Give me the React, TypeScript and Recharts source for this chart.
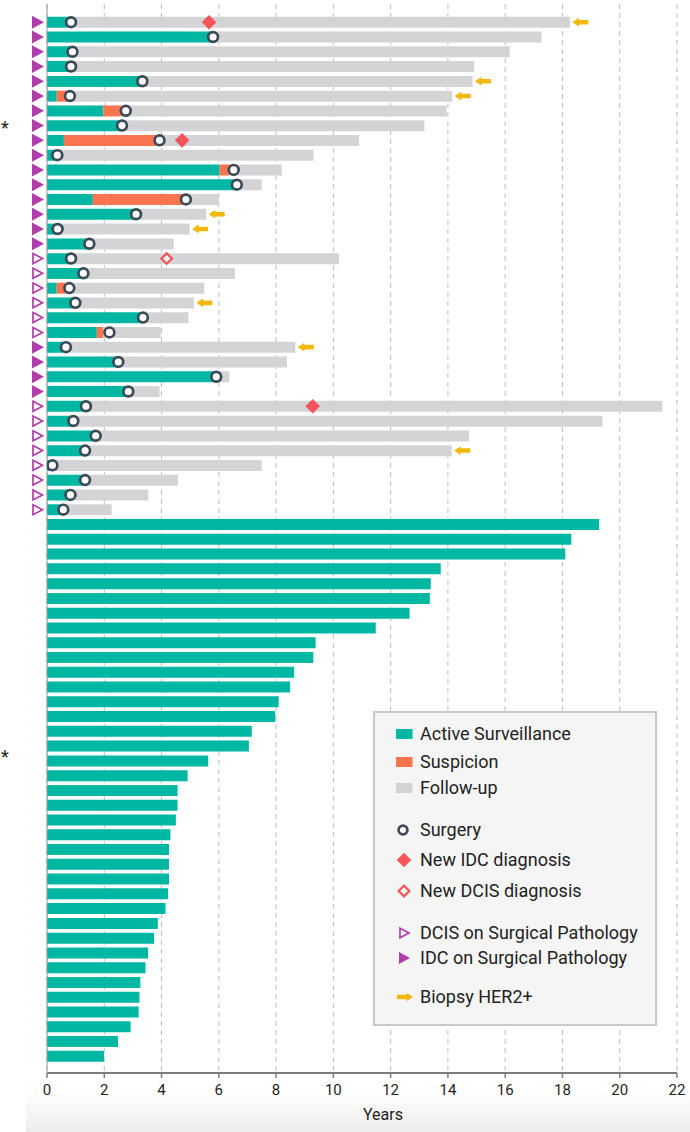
import React from "react";
import { ComposedChart, Bar, Scatter, XAxis, YAxis, CartesianGrid, Legend } from "recharts";

const TEAL = "#00b7a3";
const ORANGE = "#fb7450";
const GRAY = "#d4d4d6";
const SLATE = "#3b4a56";
const RED = "#f4555b";
const MAGENTA = "#b23cac";
const GOLD = "#f2b80c";
const AXIS = "#7c7c7c";

// ---- Cohort that went to surgery (34 patients), values in years ----
const surgAS = [0.84, 5.8, 0.89, 0.84, 3.33, 0.34, 1.97, 2.62, 0.59, 0.3, 6.03, 6.63, 1.6, 3.11, 0.37, 1.48, 0.84, 1.27, 0.34, 0.99, 3.35, 1.74, 0.66, 2.49, 5.91, 2.84, 1.36, 0.92, 1.7, 1.33, 0.1, 1.33, 0.82, 0.57];
const surgSuspicionEnd = [null, null, null, null, null, 0.7, 2.61, null, 3.93, null, 6.38, null, 4.85, null, null, null, null, null, 0.63, null, null, 1.97, null, null, null, null, null, null, null, null, null, null, null, null];
const surgFollowEnd = [18.26, 17.27, 16.16, 14.92, 14.86, 14.15, 13.95, 13.18, 10.9, 9.31, 8.2, 7.5, 5.99, 5.56, 4.98, 4.43, 10.2, 6.56, 5.49, 5.13, 4.94, 3.97, 8.67, 8.38, 6.37, 3.93, 21.49, 19.4, 14.74, 14.13, 7.5, 4.57, 3.54, 2.26];
const surgTime = [0.84, 5.8, 0.89, 0.84, 3.33, 0.8, 2.75, 2.62, 3.93, 0.36, 6.52, 6.63, 4.85, 3.11, 0.37, 1.48, 0.84, 1.27, 0.78, 0.99, 3.35, 2.18, 0.66, 2.49, 5.91, 2.84, 1.36, 0.92, 1.7, 1.33, 0.19, 1.33, 0.82, 0.57];
const newIDC = [5.66, null, null, null, null, null, null, null, 4.72, null, null, null, null, null, null, null, null, null, null, null, null, null, null, null, null, null, 9.28, null, null, null, null, null, null, null];
const newDCIS = [null, null, null, null, null, null, null, null, null, null, null, null, null, null, null, null, 4.18, null, null, null, null, null, null, null, null, null, null, null, null, null, null, null, null, null];
const her2Biopsy = [true, false, false, false, true, true, false, false, false, false, false, false, false, true, true, false, false, false, false, true, false, false, true, false, false, false, false, false, false, true, false, false, false, false];
const pathology = ["IDC", "IDC", "IDC", "IDC", "IDC", "IDC", "IDC", "IDC", "IDC", "IDC", "IDC", "IDC", "IDC", "IDC", "IDC", "IDC", "DCIS", "DCIS", "DCIS", "DCIS", "DCIS", "DCIS", "IDC", "IDC", "IDC", "IDC", "DCIS", "DCIS", "DCIS", "DCIS", "DCIS", "DCIS", "DCIS", "DCIS"];

// ---- Cohort still on active surveillance (37 patients) ----
const activeOnly = [19.28, 18.31, 18.1, 13.75, 13.4, 13.37, 12.66, 11.48, 9.38, 9.3, 8.63, 8.49, 8.09, 7.97, 7.15, 7.05, 5.63, 4.91, 4.56, 4.56, 4.5, 4.31, 4.26, 4.26, 4.26, 4.23, 4.14, 3.87, 3.74, 3.53, 3.44, 3.26, 3.23, 3.2, 2.92, 2.48, 1.99];

// rows marked with an asterisk
const asteriskRows = ["S8", "A17"];
const xTicks = [0, 2, 4, 6, 8, 10, 12, 14, 16, 18, 20, 22];

const legendLabels = [
  "Active Surveillance",
  "Suspicion",
  "Follow-up",
  "Surgery",
  "New IDC diagnosis",
  "New DCIS diagnosis",
  "DCIS on Surgical Pathology",
  "IDC on Surgical Pathology",
  "Biopsy HER2+",
];
const legendIcons = ["rectAS", "rectSusp", "rectFU", "circle", "diamond", "diamondHollow", "triHollow", "triFilled", "arrow"];
const legendTops = [23.3, 50.7, 76.7, 119, 149, 180, 221.7, 247.3, 285.7];

type Row = {
  id: string;
  as: number;
  susp: number;
  fu: number;
  surgery: number | null;
  idc: number | null;
  dcis: number | null;
  her2: number | null;
  path: string | null;
};

const rows: Row[] = [
  ...surgAS.map((a, i) => {
    const se = surgSuspicionEnd[i];
    const base = se != null ? se : a;
    return {
      id: `S${i + 1}`,
      as: a,
      susp: se != null ? se - a : 0,
      fu: surgFollowEnd[i] - base,
      surgery: surgTime[i],
      idc: newIDC[i],
      dcis: newDCIS[i],
      her2: her2Biopsy[i] ? surgFollowEnd[i] : null,
      path: pathology[i],
    };
  }),
  ...activeOnly.map((v, i) => ({
    id: `A${i + 1}`,
    as: v,
    susp: 0,
    fu: 0,
    surgery: null,
    idc: null,
    dcis: null,
    her2: null,
    path: null,
  })),
];

const ok = (v: any) => typeof v === "number" && isFinite(v);

const SurgeryShape = (p: any) => {
  if (!ok(p.cx) || !ok(p.cy)) return null;
  return <circle cx={p.cx} cy={p.cy} r={4.9} fill="#fff" stroke={SLATE} strokeWidth={2.7} />;
};
const IdcShape = (p: any) => {
  if (!ok(p.cx) || !ok(p.cy)) return null;
  const h = 7.3;
  return <path d={`M${p.cx},${p.cy - h}L${p.cx + h},${p.cy}L${p.cx},${p.cy + h}L${p.cx - h},${p.cy}Z`} fill={RED} />;
};
const DcisShape = (p: any) => {
  if (!ok(p.cx) || !ok(p.cy)) return null;
  const h = 5.2;
  return <path d={`M${p.cx},${p.cy - h}L${p.cx + h},${p.cy}L${p.cx},${p.cy + h}L${p.cx - h},${p.cy}Z`} fill="#fff" stroke={RED} strokeWidth={2.3} />;
};
const ArrowShape = (p: any) => {
  if (!ok(p.cx) || !ok(p.cy)) return null;
  const x0 = p.cx + 2.5;
  const y = p.cy;
  return (
    <path
      d={`M${x0},${y}L${x0 + 6.5},${y - 4.4}L${x0 + 6.5},${y - 2.3}L${x0 + 16},${y - 2.3}L${x0 + 16},${y + 2.3}L${x0 + 6.5},${y + 2.3}L${x0 + 6.5},${y + 4.4}Z`}
      fill={GOLD}
    />
  );
};

const RowTick = (p: any) => {
  const id = p.payload?.value;
  const row = rows.find((r) => r.id === id);
  const x = p.x;
  const y = p.y;
  const parts: any[] = [];
  if (row && row.path === "IDC") {
    parts.push(<path key="t" d={`M${x - 15},${y - 6.5}L${x - 3},${y}L${x - 15},${y + 6.5}Z`} fill={MAGENTA} />);
  } else if (row && row.path === "DCIS") {
    parts.push(
      <path key="t" d={`M${x - 14},${y - 5}L${x - 4.5},${y}L${x - 14},${y + 5}Z`} fill="#fff" stroke={MAGENTA} strokeWidth={1.7} strokeLinejoin="miter" />
    );
  }
  if (asteriskRows.includes(id)) {
    parts.push(
      <text key="a" x={x - 46} y={y} dy={id === "S8" ? 8 : 2} fontSize={18} fill="#222" textAnchor="start">
        *
      </text>
    );
  }
  return <g>{parts}</g>;
};

const LegendIcon = ({ kind }: { kind: string }) => {
  const cy = 8;
  const cx = 9;
  let el: any = null;
  if (kind === "rectAS") el = <rect x={1} y={3} width={16.5} height={10} fill={TEAL} />;
  if (kind === "rectSusp") el = <rect x={1} y={3} width={16.5} height={10} fill={ORANGE} />;
  if (kind === "rectFU") el = <rect x={1} y={3} width={16.5} height={10} fill={GRAY} />;
  if (kind === "circle") el = <circle cx={cx - 1} cy={cy} r={4.4} fill="#fff" stroke={SLATE} strokeWidth={2.7} />;
  if (kind === "diamond") el = <path d={`M${cx},${cy - 7.3}L${cx + 7.3},${cy}L${cx},${cy + 7.3}L${cx - 7.3},${cy}Z`} fill={RED} />;
  if (kind === "diamondHollow")
    el = <path d={`M${cx},${cy - 5.3}L${cx + 5.3},${cy}L${cx},${cy + 5.3}L${cx - 5.3},${cy}Z`} fill="#fff" stroke={RED} strokeWidth={2.3} />;
  if (kind === "triHollow")
    el = <path d={`M${cx - 4},${cy - 4.8}L${cx + 5},${cy}L${cx - 4},${cy + 4.8}Z`} fill="#fff" stroke={MAGENTA} strokeWidth={1.7} />;
  if (kind === "triFilled") el = <path d={`M${cx - 5},${cy - 6}L${cx + 6},${cy}L${cx - 5},${cy + 6}Z`} fill={MAGENTA} />;
  if (kind === "arrow")
    el = (
      <path
        d={`M${cx + 9},${cy}L${cx + 2.5},${cy - 4.3}L${cx + 2.5},${cy - 2.3}L${cx - 7},${cy - 2.3}L${cx - 7},${cy + 2.3}L${cx + 2.5},${cy + 2.3}L${cx + 2.5},${cy + 4.3}Z`}
        fill={GOLD}
      />
    );
  return (
    <svg width={20} height={16} style={{ position: "absolute", left: 20, top: -8, overflow: "visible" }}>
      {el}
    </svg>
  );
};

const LegendBox = () => (
  <div
    style={{
      position: "relative",
      width: 284,
      height: 315,
      boxSizing: "border-box",
      border: "2px solid #c9c9c9",
      background: "#f5f5f5",
      fontFamily: "Roboto, sans-serif",
    }}
  >
    {legendLabels.map((label, i) => (
      <div key={label} style={{ position: "absolute", left: 0, top: legendTops[i] - 2, width: "100%" }}>
        <LegendIcon kind={legendIcons[i]} />
        <span
          style={{
            position: "absolute",
            left: 45,
            top: -11,
            fontSize: 18,
            lineHeight: "22px",
            color: "#222",
            whiteSpace: "nowrap",
          }}
        >
          {label}
        </span>
      </div>
    ))}
  </div>
);

export default function App() {
  return (
    <div style={{ position: "absolute", left: 0, top: 0, width: 690, height: 1132, background: "#fff", fontFamily: "Roboto, sans-serif" }}>
      <div
        style={{
          position: "absolute",
          left: 26,
          top: 1092,
          width: 664,
          height: 40,
          background: "linear-gradient(to bottom, #ffffff, #ececec)",
        }}
      />
      <div style={{ position: "absolute", left: 0, top: 0 }}>
        <ComposedChart
          layout="vertical"
          width={690}
          height={1132}
          data={rows}
          margin={{ top: 4, right: 13, bottom: 0, left: 0 }}
          barSize={11}
        >
          <CartesianGrid horizontal={false} vertical stroke="#bdbdbd" strokeDasharray="5 4" />
          <XAxis
            type="number"
            domain={[0, 22]}
            ticks={xTicks}
            interval={0}
            allowDataOverflow
            height={59}
            tickSize={5}
            tickMargin={6}
            axisLine={{ stroke: AXIS, strokeWidth: 2 }}
            tickLine={{ stroke: AXIS, strokeWidth: 1.5 }}
            tick={{ fill: "#1e1e1e", fontSize: 15 }}
            label={{ value: "Years", position: "insideBottom", offset: 12, dx: 21, fill: "#1e1e1e", fontSize: 16 }}
          />
          <XAxis
            xAxisId="top"
            orientation="top"
            type="number"
            domain={[0, 22]}
            ticks={xTicks}
            interval={0}
            height={0}
            mirror
            tickSize={8}
            tickFormatter={() => ""}
            axisLine={{ stroke: AXIS, strokeWidth: 2 }}
            tickLine={{ stroke: AXIS, strokeWidth: 1.5 }}
          />
          <YAxis
            type="category"
            dataKey="id"
            width={47}
            interval={0}
            tickSize={0}
            tickMargin={0}
            tickLine={false}
            axisLine={{ stroke: "#9a9a9a" }}
            padding={{ top: 10.8, bottom: 9.4 }}
            tick={<RowTick />}
          />
          <Bar dataKey="as" stackId="s" fill={TEAL} isAnimationActive={false} />
          <Bar dataKey="susp" stackId="s" fill={ORANGE} isAnimationActive={false} />
          <Bar dataKey="fu" stackId="s" fill={GRAY} isAnimationActive={false} />
          <Scatter dataKey="surgery" shape={SurgeryShape} isAnimationActive={false} />
          <Scatter dataKey="idc" shape={IdcShape} isAnimationActive={false} />
          <Scatter dataKey="dcis" shape={DcisShape} isAnimationActive={false} />
          <Scatter dataKey="her2" shape={ArrowShape} isAnimationActive={false} />
          <Legend
            layout="vertical"
            align="center"
            verticalAlign="middle"
            wrapperStyle={{ left: 373, top: 711, width: 284, height: 315 }}
            content={() => <LegendBox />}
          />
        </ComposedChart>
      </div>
    </div>
  );
}
